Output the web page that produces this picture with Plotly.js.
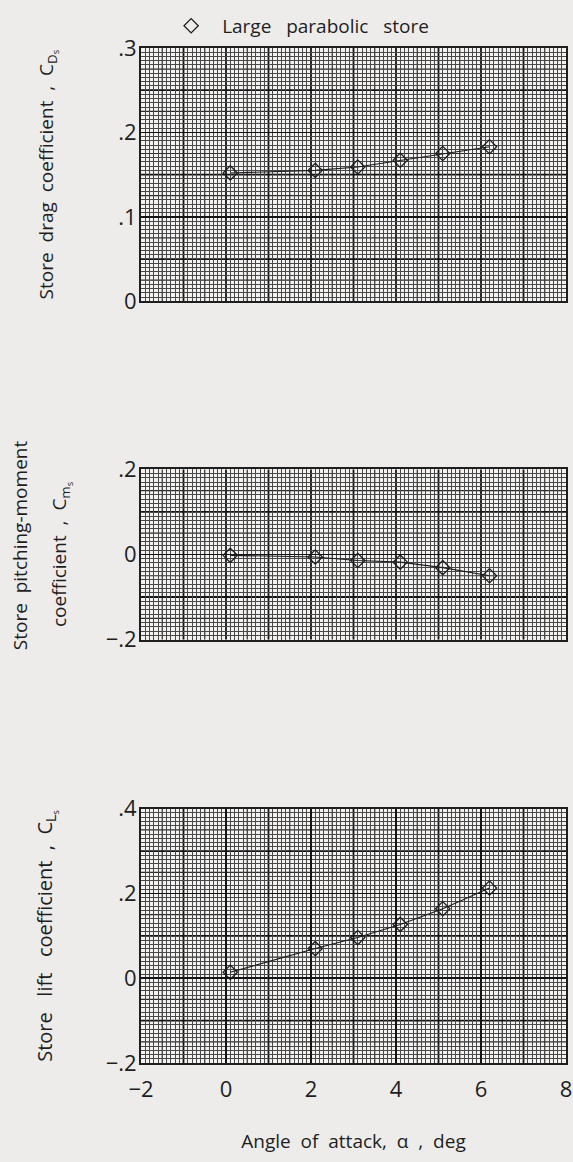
<!DOCTYPE html>
<html>
<head>
<meta charset="utf-8">
<script src="https://cdn.plot.ly/plotly-3.0.1.min.js"></script>
<style>
  html, body { margin: 0; padding: 0; background: #edeceb; }
  #chart { width: 573px; height: 1162px; }
</style>
</head>
<body>
<div id="chart"></div>
<script>
// Angle of attack (deg) for each test point
const alpha = [0.1, 2.1, 3.1, 4.1, 5.1, 6.2];
// Store coefficients
const dragCoef = [0.152, 0.155, 0.159, 0.167, 0.175, 0.183];
const momentCoef = [-0.002, -0.006, -0.014, -0.018, -0.031, -0.050];
const liftCoef = [0.014, 0.070, 0.096, 0.127, 0.164, 0.213];

const SP = '\u00a0 ';      // wide word spacing of the lettering
const SP2 = '\u00a0\u00a0 ';
const LEAD = n => '\u00a0'.repeat(n);
const seriesName = 'Large' + SP2 + 'parabolic' + SP2 + 'store';

// Tick labels
const xTickVals = [-2, 0, 2, 4, 6, 8];
const xTickText = ['\u22122', '0', '2', '4', '6', '8'];
const dragTickVals = [0, 0.1, 0.2, 0.3];
const dragTickText = ['0', '.1', '.2', '.3'];
const momentTickVals = [-0.2, 0, 0.2];
const momentTickText = ['\u2212.2', '0', '.2'];
const liftTickVals = [-0.2, 0, 0.2, 0.4];
const liftTickText = ['\u2212.2', '0', '.2', '.4'];

// Graph-paper styling
const FONT = 'Open Sans, DejaVu Sans, sans-serif';
const INK = '#1e1e1e';
const HEAVY = { color: '#141414', width: 1.8 };
const MEDIUM = { color: '#2c2c2c', width: 1.2 };
const FINE = { color: '#484848', width: 1 };

const X_RANGE = [-2, 8];
const dragRange = [0, 0.3], momentRange = [-0.2, 0.2], liftRange = [-0.2, 0.4];

// Fine rulings: ten per heavy square, leaving out the medium and heavy positions
function fineVals(range, heavyStep) {
  const step = heavyStep / 10;
  const n = Math.round((range[1] - range[0]) / step);
  const out = [];
  for (let i = 1; i < n; i++) if (i % 5) out.push(+(range[0] + i * step).toFixed(6));
  return out;
}

function xAxis(anchor, labelled, title) {
  const ax = {
    domain: [0, 1], range: X_RANGE, anchor,
    tickmode: 'array', tickvals: labelled ? xTickVals : [], ticktext: labelled ? xTickText : [],
    ticks: '', ticklabelstandoff: 6,
    tickfont: { family: FONT, size: 22, color: INK },
    showgrid: true, gridcolor: HEAVY.color, gridwidth: HEAVY.width,
    zeroline: false,
    showline: true, linecolor: INK, linewidth: 2, mirror: true,
    minor: { tickmode: 'array', tickvals: fineVals(X_RANGE, 1), showgrid: true,
             gridcolor: FINE.color, gridwidth: FINE.width, ticks: '' },
    fixedrange: true
  };
  if (title) ax.title = { text: title, font: { family: FONT, size: 19, color: INK }, standoff: 32 };
  return ax;
}

function yAxis(anchor, domain, range, heavyStep, vals, texts, title, standoff, size) {
  return {
    domain, range, anchor,
    tickmode: 'array', tickvals: vals, ticktext: texts,
    ticks: '', ticklabelstandoff: -2,
    tickfont: { family: FONT, size: 22, color: INK },
    showgrid: true, gridcolor: HEAVY.color, gridwidth: HEAVY.width,
    zeroline: false,
    showline: true, linecolor: INK, linewidth: 2, mirror: true,
    minor: { tickmode: 'array', tickvals: fineVals(range, heavyStep), showgrid: true,
             gridcolor: FINE.color, gridwidth: FINE.width, ticks: '' },
    title: { text: title, font: { family: FONT, size: size || 19, color: INK }, standoff },
    fixedrange: true
  };
}

// Heavy lines that carry no label, plus the medium lines halfway between heavy lines
function paperLines(xref, yref, xVals, yRange, yHeavy, yVals) {
  const out = [];
  const add = (vertical, v, style) => out.push(vertical
    ? { type: 'line', xref, yref: yref + ' domain', x0: v, x1: v, y0: 0, y1: 1, line: style, layer: 'below' }
    : { type: 'line', xref: xref + ' domain', yref, x0: 0, x1: 1, y0: v, y1: v, line: style, layer: 'below' });
  const onLabel = (v, vals) => vals.some(u => Math.abs(u - v) < 1e-9);
  const xn = Math.round((X_RANGE[1] - X_RANGE[0]) * 2);
  for (let i = 1; i < xn; i++) {
    const v = X_RANGE[0] + i * 0.5;
    if (i % 2) add(true, v, MEDIUM);
    else if (!onLabel(v, xVals)) add(true, v, HEAVY);
  }
  const yn = Math.round((yRange[1] - yRange[0]) / yHeavy * 2);
  for (let i = 1; i < yn; i++) {
    const v = +(yRange[0] + i * yHeavy / 2).toFixed(6);
    if (i % 2) add(false, v, MEDIUM);
    else if (!onLabel(v, yVals)) add(false, v, HEAVY);
  }
  return out;
}

const lineStyle = { color: INK, width: 1.1 };
const markerStyle = { symbol: 'diamond-open', size: 11, color: INK, line: { width: 1.3, color: INK } };

const traces = [
  { x: alpha, y: dragCoef, xaxis: 'x3', yaxis: 'y3', mode: 'lines',
    name: 'drag', line: lineStyle, showlegend: false },
  { x: alpha, y: dragCoef, xaxis: 'x3', yaxis: 'y3', mode: 'markers',
    name: seriesName, marker: markerStyle, showlegend: true, cliponaxis: false },
  { x: alpha, y: momentCoef, xaxis: 'x2', yaxis: 'y2', mode: 'lines+markers',
    name: 'moment', line: lineStyle, marker: markerStyle, showlegend: false, cliponaxis: false },
  { x: alpha, y: liftCoef, xaxis: 'x', yaxis: 'y', mode: 'lines+markers',
    name: 'lift', line: lineStyle, marker: markerStyle, showlegend: false, cliponaxis: false }
];

const momentDomain = [0.4172, 0.5848];

const layout = {
  width: 573, height: 1162,
  margin: { l: 141, r: 7, t: 37, b: 99 },
  paper_bgcolor: '#edeceb',
  plot_bgcolor: '#f4f2f1',
  font: { family: FONT, color: INK },
  showlegend: true,
  legend: {
    x: 0.045, y: 1.003, xanchor: 'left', yanchor: 'bottom',
    bgcolor: 'rgba(0,0,0,0)', font: { family: FONT, size: 19, color: INK },
    itemwidth: 52
  },
  xaxis: xAxis('y', true, 'Angle' + SP + 'of' + SP + 'attack,' + SP + '\u03b1' + SP + ',' + SP + 'deg'),
  xaxis2: xAxis('y2', false),
  xaxis3: xAxis('y3', false),
  yaxis: yAxis('x', [0, 0.2505], liftRange, 0.1, liftTickVals, liftTickText,
               LEAD(10) + 'Store' + SP2 + 'lift' + SP2 + 'coefficient' + SP + ',' + SP + 'C<sub>L<sub>s</sub></sub>', 48, 20),
  yaxis2: yAxis('x2', momentDomain, momentRange, 0.1, momentTickVals, momentTickText,
                'coefficient' + SP + ',' + SP + 'C<sub>m<sub>s</sub></sub>', 34),
  yaxis3: yAxis('x3', [0.7505, 1], dragRange, 0.05, dragTickVals, dragTickText,
                LEAD(12) + 'Store' + SP + 'drag' + SP + 'coefficient' + SP + ',' + SP + 'C<sub>D<sub>s</sub></sub>', 60),
  annotations: [{
    text: 'Store' + SP + 'pitching-moment',
    xref: 'paper', yref: 'paper', x: -0.285, y: (momentDomain[0] + momentDomain[1]) / 2 + 0.009,
    xanchor: 'center', yanchor: 'middle', textangle: -90, showarrow: false,
    font: { family: FONT, size: 19, color: INK }
  }],
  shapes: [].concat(
    paperLines('x', 'y', xTickVals, liftRange, 0.1, liftTickVals),
    paperLines('x2', 'y2', [], momentRange, 0.1, momentTickVals),
    paperLines('x3', 'y3', [], dragRange, 0.05, dragTickVals)
  )
};

Plotly.newPlot('chart', traces, layout, { staticPlot: true, displayModeBar: false });
</script>
</body>
</html>
